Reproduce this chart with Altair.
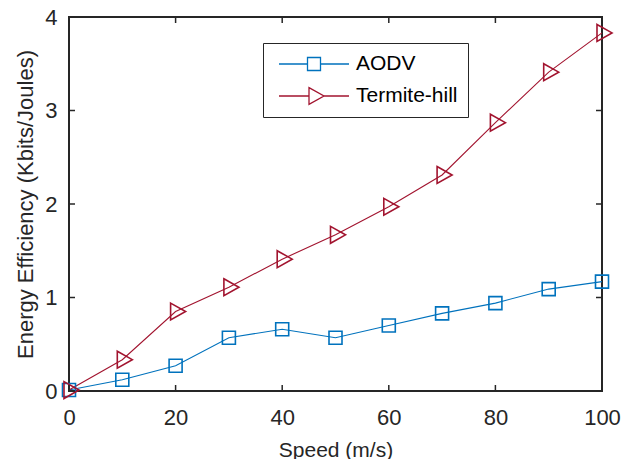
import altair as alt
import pandas as pd

speed = [0, 10, 20, 30, 40, 50, 60, 70, 80, 90, 100]
aodv = [0.01, 0.12, 0.27, 0.57, 0.66, 0.57, 0.70, 0.83, 0.94, 1.09, 1.17]
termite = [0.01, 0.335, 0.85, 1.11, 1.41, 1.67, 1.97, 2.31, 2.87, 3.41, 3.83]
series_names = ["AODV", "Termite-hill"]
series_colors = ["#0072BD", "#A2142F"]
x_ticks = [0, 20, 40, 60, 80, 100]
y_ticks = [0, 1, 2, 3, 4]

SQ = "M-1,-1H1V1H-1Z"
TRI = "M-0.77,-1.3L1.54,0L-0.77,1.3Z"
# legend glyphs (line + marker), in units of sqrt(size)/2 = 40 px
LEG_SQ = "M-0.875,0H-0.1625M-0.1625,-0.1625H0.1625V0.1625H-0.1625ZM0.1625,0H0.875"
LEG_TRI = "M-0.875,0H-0.125M-0.125,-0.211L0.25,0L-0.125,0.211ZM0.25,0H0.875"

rows = []
for s, v in zip(speed, aodv):
    rows.append({"speed": s, "value": v, "series": series_names[0]})
for s, v in zip(speed, termite):
    rows.append({"speed": s, "value": v, "series": series_names[1]})
df = pd.DataFrame(rows)
xt = pd.DataFrame({"speed": x_ticks})
yt = pd.DataFrame({"value": y_ticks})

W, H = 533, 374
AX = "#262626"
FONT = "Liberation Sans"

xenc = alt.X("speed:Q", scale=alt.Scale(domain=[0, 100], nice=False),
             axis=alt.Axis(title="Speed (m/s)", values=x_ticks, format="d", labelFlush=False,
                           labelPadding=16, titlePadding=11, titleFontSize=21))
yenc = alt.Y("value:Q", scale=alt.Scale(domain=[0, 4], nice=False),
             axis=alt.Axis(title="Energy Efficiency (Kbits/Joules)", values=y_ticks, format="d",
                           labelFlush=False, labelPadding=12, titlePadding=7, titleFontSize=22))
cscale = alt.Scale(domain=series_names, range=series_colors)

lines = alt.Chart(df).mark_line(strokeWidth=1.1).encode(
    x=xenc, y=yenc,
    color=alt.Color("series:N", scale=cscale, legend=None),
)

points = alt.Chart(df).mark_point(filled=False, size=169, strokeWidth=1.6, opacity=1).encode(
    x=xenc, y=yenc,
    color=alt.Color("series:N", scale=cscale, legend=None),
    shape=alt.Shape("series:N", scale=alt.Scale(domain=series_names, range=[SQ, TRI]), legend=None),
)

leg = alt.Legend(
    title=None, orient="none", legendX=194, legendY=26,
    symbolSize=6400, symbolStrokeWidth=1.3, labelOffset=1, clipHeight=22,
    padding=10, rowPadding=10, fillColor="white", strokeColor=AX,
    labelFontSize=21, labelFont=FONT, labelColor="black",
)
legend_layer = alt.Chart(df).transform_filter("false").mark_point(
    filled=False, size=169, strokeWidth=1.3, opacity=1).encode(
    x=xenc, y=yenc,
    color=alt.Color("series:N", scale=cscale, legend=leg),
    shape=alt.Shape("series:N", scale=alt.Scale(domain=series_names, range=[LEG_SQ, LEG_TRI]), legend=leg),
)

tick_style = dict(color=AX, strokeWidth=1.5)
bottom_ticks = alt.Chart(xt).mark_rule(**tick_style).encode(
    x=xenc, y=alt.value(H), y2=alt.value(H - 6))
top_ticks = alt.Chart(xt).mark_rule(**tick_style).encode(
    x=xenc, y=alt.value(0), y2=alt.value(6))
left_ticks = alt.Chart(yt).mark_rule(**tick_style).encode(
    y=yenc, x=alt.value(0), x2=alt.value(6))
right_ticks = alt.Chart(yt).mark_rule(**tick_style).encode(
    y=yenc, x=alt.value(W), x2=alt.value(W - 6))

chart = alt.layer(lines, points, legend_layer, bottom_ticks, top_ticks, left_ticks, right_ticks).resolve_scale(
    shape="independent", color="independent"
).properties(
    width=W, height=H,
    autosize=alt.AutoSizeParams(type="none"),
    padding={"left": 61, "top": 9, "right": 23, "bottom": 68},
    background="white",
).configure_view(
    stroke=AX, strokeWidth=2
).configure_axis(
    labelFont=FONT, titleFont=FONT, labelFontSize=22, labelColor=AX,
    labelFontWeight="normal", titleColor=AX, titleFontWeight="normal",
    grid=False, ticks=False, tickSize=0, domain=False,
).configure_legend(
    strokeWidth=1
)

chart.save("out.html", embed_options={"renderer": "svg", "actions": False})
